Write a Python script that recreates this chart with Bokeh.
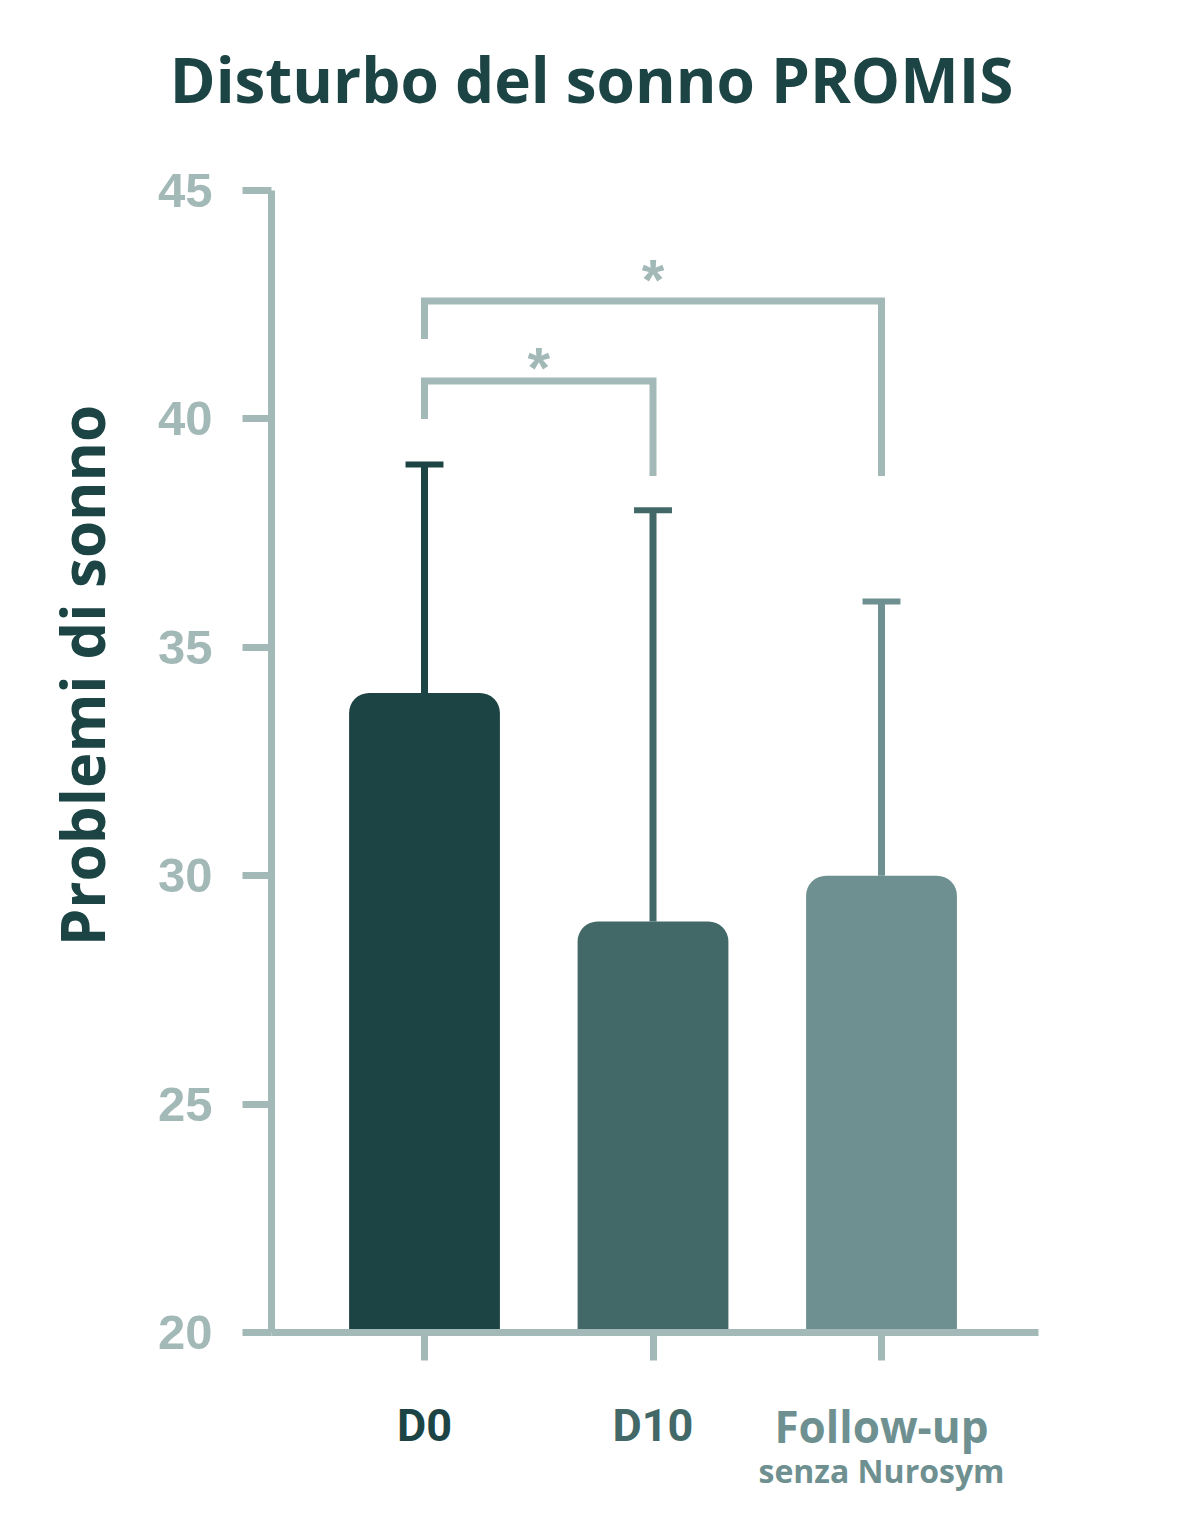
from bokeh.plotting import figure
from bokeh.models import Range1d, FixedTicker, Label, ColumnDataSource
from bokeh.embed import file_html
from bokeh.resources import INLINE

# ---- data ----
categories = ["D0", "D10", "Follow-up"]
cat_sublabels = ["", "", "senza Nurosym"]
means = [34, 29, 30]
upper_err = [39, 38, 36]
bar_colors = ["#1c4444", "#436868", "#6e9090"]
y_ticks = [20, 25, 30, 35, 40, 45]
# significance brackets:
# (from index, to index, bracket height, left leg end, right leg end, star height, label)
brackets = [
    (0, 1, 40.83, 40.0, 38.75, 41.32, "*"),
    (0, 2, 42.58, 41.75, 38.75, 43.25, "*"),
]

TITLE = "Disturbo del sonno PROMIS"
YLABEL = "Problemi di sonno"

AX = "#a3b9b7"
DARK = "#1c4444"

W, H = 1163, 1500
PX_X = 228.5   # pixels per category step
PX_Y = 45.68   # pixels per y unit
X0_PX = 424    # pixel of first category
Y20_PX = 1332  # pixel of y = 20

xs = list(range(len(categories)))
x_start = -X0_PX / PX_X
x_end = (W - X0_PX) / PX_X
y_end = y_ticks[0] + Y20_PX / PX_Y
y_start = y_ticks[0] - (H - Y20_PX) / PX_Y
x_axis_left = -0.6696
x_axis_right = 2.687

p = figure(width=W, height=H,
           x_range=Range1d(x_start, x_end), y_range=Range1d(y_start, y_end),
           output_backend="svg", toolbar_location=None,
           min_border=0, min_border_left=0, min_border_right=0,
           min_border_top=0, min_border_bottom=0)
p.outline_line_color = None
p.grid.visible = False
p.background_fill_color = "white"
p.border_fill_color = "white"

src = ColumnDataSource(dict(x=xs, mean=means, upper=upper_err, color=bar_colors,
                            cl=[x - 0.083 for x in xs], cr=[x + 0.083 for x in xs]))

p.vbar(x="x", width=0.66, bottom=y_ticks[0], top="mean", fill_color="color",
       line_color=None, border_radius=(20, 20, 0, 0), source=src)
p.segment(x0="x", y0="mean", x1="x", y1="upper", line_color="color",
          line_width=7, source=src)
p.segment(x0="cl", y0="upper", x1="cr", y1="upper", line_color="color",
          line_width=6, source=src)

# brackets
bx, by = [], []
for a, b, h, la, lb, sh, txt in brackets:
    bx.append([xs[a], xs[a], xs[b], xs[b]])
    by.append([la, h, h, lb])
p.multi_line(xs=bx, ys=by, line_color=AX, line_width=7,
             line_join="miter", line_cap="butt")
for a, b, h, la, lb, sh, txt in brackets:
    p.add_layout(Label(x=(xs[a] + xs[b]) / 2, y=sh, text=txt, text_align="center",
                       text_baseline="middle", y_offset=-9,
                       text_font="Liberation Sans",
                       text_font_style="bold", text_font_size="58px", text_color=AX))

# axes (placed at fixed data locations, bounded to the data area)
for ax in (p.xaxis, p.yaxis):
    ax.axis_line_color = AX
    ax.axis_line_width = 7
    ax.major_tick_line_color = AX
    ax.major_tick_line_width = 7
    ax.major_tick_in = 0
    ax.minor_tick_in = 0
    ax.minor_tick_out = 0
p.yaxis.fixed_location = x_axis_left
p.yaxis.bounds = (y_ticks[0], y_ticks[-1])
p.yaxis.ticker = FixedTicker(ticks=y_ticks)
p.yaxis.major_tick_out = 29
p.yaxis.major_label_standoff = 30
p.yaxis.major_label_text_font = "Liberation Sans"
p.yaxis.major_label_text_font_style = "bold"
p.yaxis.major_label_text_font_size = "49px"
p.yaxis.major_label_text_color = AX

p.xaxis.fixed_location = y_ticks[0]
p.xaxis.bounds = (x_axis_left, x_axis_right)
p.xaxis.ticker = FixedTicker(ticks=xs)
p.xaxis.major_tick_out = 28
p.xaxis.major_label_overrides = {x: "" for x in xs}

# title and axis label
p.add_layout(Label(x=0.731, y=46.9, y_offset=25, text=TITLE, text_align="center",
                   text_baseline="alphabetic", text_font="Open Sans",
                   text_font_style="bold", text_font_size="62px", text_color=DARK))
p.add_layout(Label(x=-1.497, y=34.38, text=YLABEL, angle=90, angle_units="deg",
                   text_align="center", text_baseline="middle", text_font="Open Sans",
                   text_font_style="bold", text_font_size="60px", text_color=DARK))

# category labels
fonts = ["Roboto", "Roboto", "Open Sans"]
sizes = [45, 45, 44]
for i, c in enumerate(categories):
    p.add_layout(Label(x=xs[i], y=17.56, y_offset=18, text=c, text_align="center",
                       text_baseline="alphabetic", text_font=fonts[i],
                       text_font_style="bold", text_font_size=f"{sizes[i]}px",
                       text_color=bar_colors[i]))
    if cat_sublabels[i]:
        p.add_layout(Label(x=xs[i], y=16.69, y_offset=13, text=cat_sublabels[i],
                           text_align="center", text_baseline="alphabetic",
                           text_font="Open Sans", text_font_style="bold",
                           text_font_size="32px", text_color=bar_colors[i]))

open("out.html", "w").write(file_html(p, INLINE))
